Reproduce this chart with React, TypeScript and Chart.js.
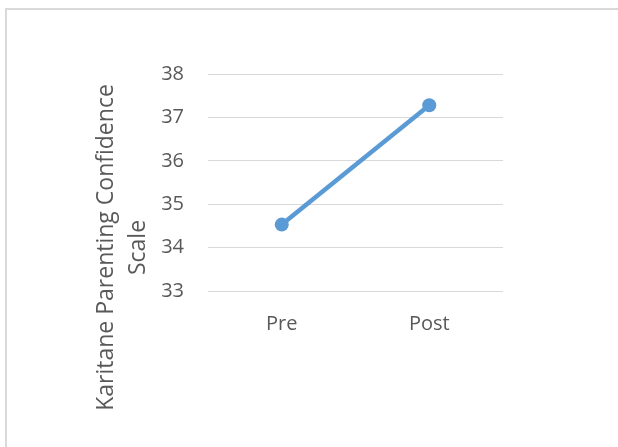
import React, { useEffect, useRef } from "react";
import { Chart, registerables } from "chart.js";

Chart.register(...registerables);

const categories = ["Pre", "Post"];
const scores = [34.53, 37.28];
const yMin = 33;
const yMax = 38;
const yStep = 1;
const yTitleLines = ["Karitane Parenting Confidence", "Scale"];

const FONT = "'Open Sans', sans-serif";
const TEXT = "#595959";
const GRID = "#d9d9d9";
const LINE = "#5b9bd5";

const framePlugin = {
  id: "frame",
  beforeDraw(chart: any) {
    const ctx = chart.ctx;
    ctx.save();
    ctx.fillStyle = "#ffffff";
    ctx.fillRect(0, 0, chart.width, chart.height);
    ctx.fillStyle = GRID;
    ctx.fillRect(5, 8, chart.width, 2);
    ctx.fillRect(5, 8, 2, chart.height);
    ctx.restore();
  },
  afterDraw(chart: any) {
    const ctx = chart.ctx;
    ctx.save();
    ctx.fillStyle = TEXT;
    ctx.font = `23px ${FONT}`;
    ctx.textAlign = "center";
    ctx.textBaseline = "alphabetic";
    const baselines = [113, 145];
    yTitleLines.forEach((line, i) => {
      ctx.save();
      ctx.translate(baselines[i], 247.5);
      ctx.rotate(-Math.PI / 2);
      ctx.fillText(line, 0, 0);
      ctx.restore();
    });
    ctx.restore();
  },
};

export default function App() {
  const ref = useRef<HTMLCanvasElement | null>(null);
  useEffect(() => {
    if (!ref.current) return;
    const chart = new Chart(ref.current, {
      type: "line",
      data: {
        labels: categories,
        datasets: [
          {
            data: scores,
            borderColor: LINE,
            backgroundColor: LINE,
            borderWidth: 4.5,
            pointRadius: 7,
            pointBorderWidth: 0,
            pointBackgroundColor: LINE,
            tension: 0,
          },
        ],
      },
      options: {
        responsive: false,
        animation: false,
        layout: { padding: { top: 74, right: 115, left: 0, bottom: 0 } },
        plugins: {
          legend: { display: false },
          tooltip: { enabled: false },
        },
        scales: {
          x: {
            offset: true,
            grid: { display: false, drawTicks: false },
            border: { display: false },
            ticks: { color: TEXT, font: { family: FONT, size: 20 }, padding: 21 },
            afterFit(scale: any) {
              scale.height = 156;
            },
          },
          y: {
            min: yMin,
            max: yMax,
            grid: { color: GRID, lineWidth: 1, drawTicks: false },
            border: { display: false },
            ticks: { stepSize: yStep, color: TEXT, font: { family: FONT, size: 20 }, padding: 24 },
            afterFit(scale: any) {
              scale.width = 208;
            },
          },
        },
      },
      plugins: [framePlugin],
    });
    return () => chart.destroy();
  }, []);
  return (
    <div style={{ position: "fixed", left: 0, top: 0, width: 618, height: 447 }}>
      <canvas ref={ref} width={618} height={447} style={{ width: 618, height: 447, display: "block" }} />
    </div>
  );
}
